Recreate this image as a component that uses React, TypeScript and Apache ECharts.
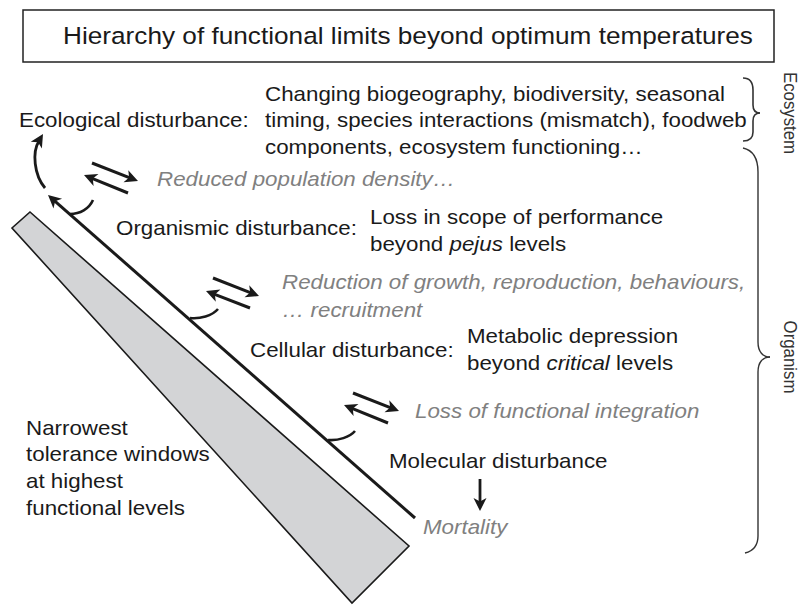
import React, { useEffect, useRef } from "react";
import * as echarts from "echarts";

const titleText = "Hierarchy of functional limits beyond optimum temperatures";
const disturbanceLabels = [
  "Ecological disturbance:",
  "Organismic disturbance:",
  "Cellular disturbance:",
  "Molecular disturbance",
];
const ecologicalEffects = [
  "Changing biogeography, biodiversity, seasonal",
  "timing, species interactions (mismatch), foodweb",
  "components, ecosystem functioning…",
];
const organismicEffects = ["Loss in scope of performance", "beyond {i|pejus} levels"];
const cellularEffects = ["Metabolic depression", "beyond {i|critical} levels"];
const transitionTexts = [
  "Reduced population density…",
  "Reduction of growth, reproduction, behaviours,",
  "… recruitment",
  "Loss of functional integration",
  "Mortality",
];
const toleranceNote = ["Narrowest", "tolerance windows", "at highest", "functional levels"];
const scaleLabels = ["Ecosystem", "Organism"];

const FONT = "'Liberation Sans', Arial, Helvetica, sans-serif";
const INK = "#1a1a1a";
const GRAY = "#808080";

function head(tx: number, ty: number, fx: number, fy: number, L = 12, W = 6, N = 3) {
  const dx = tx - fx, dy = ty - fy;
  const len = Math.hypot(dx, dy);
  const ux = dx / len, uy = dy / len;
  const px = -uy, py = ux;
  return {
    type: "polygon",
    shape: {
      points: [
        [tx, ty],
        [tx - L * ux + W * px, ty - L * uy + W * py],
        [tx - (L - N) * ux, ty - (L - N) * uy],
        [tx - L * ux - W * px, ty - L * uy - W * py],
      ],
    },
    style: { fill: INK },
  };
}

function arrowLine(x1: number, y1: number, x2: number, y2: number, w = 3) {
  const dx = x2 - x1, dy = y2 - y1;
  const len = Math.hypot(dx, dy);
  const bx = x2 - (dx / len) * 8, by = y2 - (dy / len) * 8;
  return [
    { type: "line", shape: { x1, y1, x2: bx, y2: by }, style: { stroke: INK, lineWidth: w } },
    head(x2, y2, x1, y1, 13, 6.5, 3.5),
  ];
}

function text(x: number, y: number, t: string, opts: any = {}) {
  const size = opts.size || 20.5;
  const fill = opts.fill || INK;
  return {
    type: "text",
    x,
    y,
    scaleX: opts.sx !== undefined ? opts.sx : 1.09,
    style: {
      text: t,
      font: `${opts.italic ? "italic " : ""}${size}px ${FONT}`,
      fill,
      textAlign: opts.align || "left",
      textVerticalAlign: "middle",
      rich: {
        i: { font: `italic ${size}px ${FONT}`, fill },
      },
    },
    ...(opts.extra || {}),
  };
}

function bez(x1: number, y1: number, c1x: number, c1y: number, c2x: number, c2y: number, x2: number, y2: number, w = 3, stroke = INK) {
  return {
    type: "bezierCurve",
    shape: { x1, y1, cpx1: c1x, cpy1: c1y, cpx2: c2x, cpy2: c2y, x2, y2 },
    style: { stroke, lineWidth: w, fill: null },
  };
}

export default function App() {
  const ref = useRef<HTMLDivElement>(null);
  useEffect(() => {
    document.body.style.margin = "0";
    const chart = echarts.init(ref.current!, null, { renderer: "svg" });
    const g: any[] = [];

    // title box
    g.push({
      type: "rect",
      shape: { x: 23, y: 10, width: 751, height: 52 },
      style: { fill: "#fff", stroke: "#222", lineWidth: 1.5 },
    });
    g.push(text(63, 36, titleText, { size: 23.5, sx: 1.115 }));

    // tolerance wedge
    g.push({
      type: "polygon",
      shape: { points: [[30, 212], [409, 546], [352, 603], [12, 228]] },
      style: { fill: "#d3d4d6", stroke: INK, lineWidth: 1.6 },
    });

    // main hierarchy line with arrowhead
    g.push(...arrowLine(415, 518, 48, 195, 3));

    // hooks
    g.push(bez(70, 214, 80, 214, 89, 209, 93, 200, 2.6));
    g.push(bez(190, 318, 200, 319, 212, 316, 218, 309, 2.6));
    g.push(bez(328, 440, 338, 441, 350, 437, 355, 431, 2.6));

    // top curved arrow
    g.push(bez(45, 188, 34, 175, 32, 152, 39, 141, 2.8));
    g.push(head(43, 134, 37, 144, 13, 6.5, 3.5));

    // equilibrium arrows
    g.push(...arrowLine(92, 163, 138, 181, 3));
    g.push(...arrowLine(128, 193, 84, 175, 3));
    g.push(...arrowLine(213, 278, 259, 296, 3));
    g.push(...arrowLine(250, 308, 206, 291, 3));
    g.push(...arrowLine(353, 393, 399, 411, 3));
    g.push(...arrowLine(388, 423, 344, 405, 3));

    // down arrow
    g.push(...arrowLine(480, 479, 480, 511, 2.8));

    // disturbance labels
    g.push(text(19, 120, disturbanceLabels[0]));
    g.push(text(116, 228, disturbanceLabels[1]));
    g.push(text(250, 350, disturbanceLabels[2]));
    g.push(text(389, 461, disturbanceLabels[3]));

    ecologicalEffects.forEach((t, i) => g.push(text(265, 94 + i * 26.5, t)));
    organismicEffects.forEach((t, i) => g.push(text(370, 217 + i * 27, t)));
    cellularEffects.forEach((t, i) => g.push(text(467, 336 + i * 27, t)));

    g.push(text(157, 179, transitionTexts[0], { italic: true, fill: GRAY }));
    g.push(text(282, 282, transitionTexts[1], { italic: true, fill: GRAY }));
    g.push(text(282, 310, transitionTexts[2], { italic: true, fill: GRAY }));
    g.push(text(415, 411, transitionTexts[3], { italic: true, fill: GRAY }));
    g.push(text(423, 527, transitionTexts[4], { italic: true, fill: GRAY }));

    toleranceNote.forEach((t, i) => g.push(text(26, 428 + i * 26.7, t)));

    // brackets
    const BK = "#333";
    g.push(bez(743, 78, 750, 78, 753, 82, 753, 90, 1.6, BK));
    g.push({ type: "line", shape: { x1: 753, y1: 90, x2: 753, y2: 105 }, style: { stroke: BK, lineWidth: 1.6 } });
    g.push(bez(753, 105, 753, 110, 755, 113, 760, 113, 1.6, BK));
    g.push(bez(760, 113, 755, 113, 753, 116, 753, 121, 1.6, BK));
    g.push({ type: "line", shape: { x1: 753, y1: 121, x2: 753, y2: 132 }, style: { stroke: BK, lineWidth: 1.6 } });
    g.push(bez(753, 132, 753, 138, 750, 141, 743, 141, 1.6, BK));

    g.push(bez(743, 148, 752, 150, 758, 158, 758, 172, 1.4, BK));
    g.push({ type: "line", shape: { x1: 758, y1: 172, x2: 758, y2: 342 }, style: { stroke: BK, lineWidth: 1.4 } });
    g.push(bez(758, 342, 758, 352, 763, 357, 770, 357, 1.4, BK));
    g.push(bez(770, 357, 763, 357, 758, 362, 758, 372, 1.4, BK));
    g.push({ type: "line", shape: { x1: 758, y1: 372, x2: 758, y2: 536 }, style: { stroke: BK, lineWidth: 1.4 } });
    g.push(bez(758, 536, 758, 546, 753, 551, 745, 553, 1.4, BK));

    g.push(text(790, 113, scaleLabels[0], { size: 17.5, sx: 0.96, align: "center", fill: "#333", extra: { rotation: -Math.PI / 2 } }));
    g.push(text(790, 357, scaleLabels[1], { size: 17.5, sx: 0.96, align: "center", fill: "#333", extra: { rotation: -Math.PI / 2 } }));

    chart.setOption({ animation: false, graphic: { elements: g } });
    return () => chart.dispose();
  }, []);
  return <div ref={ref} style={{ width: 809, height: 607, background: "#fff" }} />;
}
